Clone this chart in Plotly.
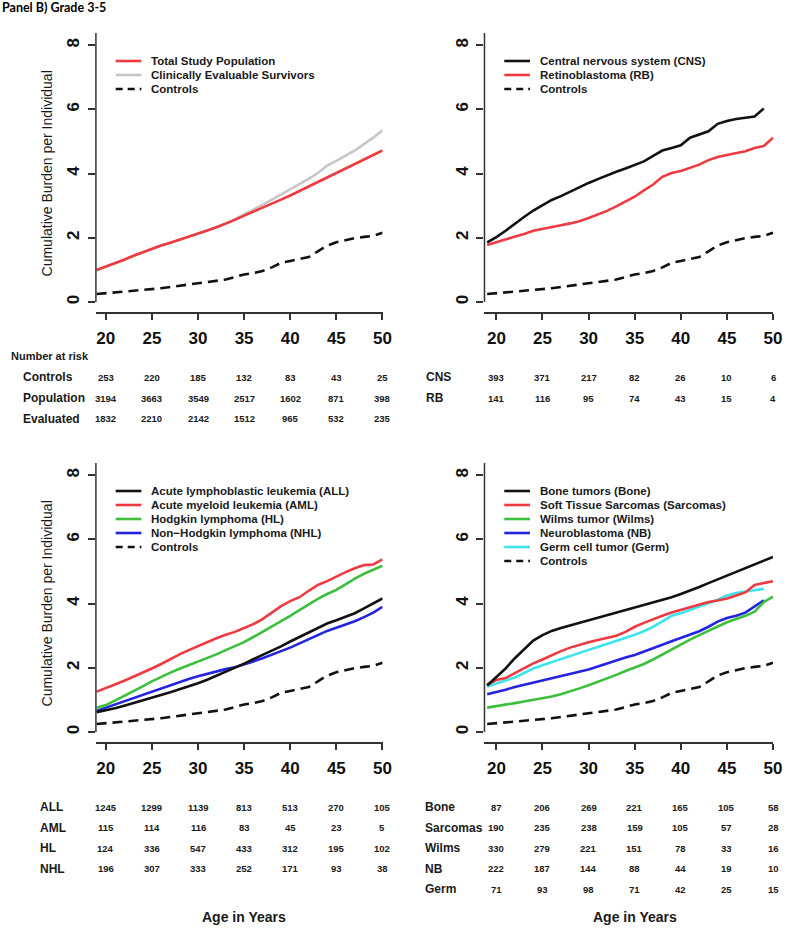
import plotly.graph_objects as go

W, H = 800, 932

# ---------------- data ----------------
ages = list(range(19, 51))
risk_ages = [20, 25, 30, 35, 40, 45, 50]

controls = [0.25, 0.27, 0.29, 0.32, 0.35, 0.38, 0.40, 0.43, 0.47, 0.51, 0.55, 0.59, 0.63, 0.67,
            0.70, 0.78, 0.86, 0.90, 0.97, 1.08, 1.22, 1.28, 1.34, 1.40, 1.58, 1.76, 1.86, 1.93,
            1.99, 2.03, 2.06, 2.16]

# Panel 1
total_pop = [1.00, 1.10, 1.21, 1.32, 1.44, 1.55, 1.66, 1.76, 1.85, 1.94, 2.03, 2.13, 2.23, 2.33,
             2.44, 2.56, 2.69, 2.81, 2.93, 3.06, 3.19, 3.32, 3.46, 3.60, 3.74, 3.90, 4.03, 4.16,
             4.30, 4.45, 4.59, 4.72]
evaluable = [1.00, 1.10, 1.21, 1.32, 1.44, 1.55, 1.66, 1.76, 1.85, 1.94, 2.03, 2.13, 2.23, 2.33,
             2.44, 2.58, 2.74, 2.88, 3.03, 3.19, 3.36, 3.52, 3.68, 3.84, 4.02, 4.25, 4.40, 4.55,
             4.72, 4.92, 5.12, 5.35]

# Panel 2
cns = [1.86, 2.02, 2.22, 2.45, 2.65, 2.85, 3.02, 3.18, 3.30, 3.44, 3.58, 3.71, 3.83, 3.95,
       4.06, 4.16, 4.26, 4.38, 4.55, 4.72, 4.80, 4.88, 5.12, 5.22, 5.32, 5.55, 5.64, 5.70,
       5.75, 5.78, 6.03, None]
rb = [1.78, 1.86, 1.95, 2.04, 2.12, 2.22, 2.27, 2.33, 2.39, 2.45, 2.52, 2.62, 2.73, 2.84,
      2.98, 3.12, 3.28, 3.48, 3.66, 3.90, 4.02, 4.08, 4.17, 4.28, 4.42, 4.52, 4.58, 4.63,
      4.70, 4.80, 4.86, 5.12]

# Panel 3
all_ = [0.62, 0.67, 0.74, 0.82, 0.90, 0.98, 1.06, 1.15, 1.24, 1.33, 1.42, 1.52, 1.63, 1.75,
        1.88, 2.00, 2.13, 2.27, 2.40, 2.53, 2.67, 2.82, 2.96, 3.10, 3.26, 3.38, 3.48, 3.58,
        3.70, 3.85, 4.00, 4.16]
aml = [1.26, 1.36, 1.48, 1.60, 1.72, 1.85, 1.98, 2.12, 2.28, 2.42, 2.55, 2.68, 2.80, 2.92,
       3.03, 3.12, 3.24, 3.36, 3.52, 3.72, 3.92, 4.08, 4.20, 4.40, 4.58, 4.70, 4.85, 4.98,
       5.10, 5.20, 5.22, 5.38]
hl = [0.76, 0.84, 0.98, 1.12, 1.27, 1.42, 1.58, 1.72, 1.85, 1.97, 2.08, 2.19, 2.30, 2.42,
      2.55, 2.67, 2.80, 2.96, 3.12, 3.28, 3.45, 3.62, 3.80, 3.98, 4.15, 4.30, 4.43, 4.60,
      4.78, 4.93, 5.06, 5.18]
nhl = [0.66, 0.76, 0.86, 0.97, 1.07, 1.17, 1.27, 1.36, 1.46, 1.56, 1.65, 1.74, 1.82, 1.89,
       1.96, 2.02, 2.10, 2.20, 2.30, 2.40, 2.52, 2.63, 2.76, 2.90, 3.03, 3.15, 3.25, 3.35,
       3.45, 3.58, 3.72, 3.90]

# Panel 4
bone = [1.45, 1.70, 1.98, 2.30, 2.58, 2.85, 3.02, 3.15, 3.24, 3.32, 3.40, 3.48, 3.56, 3.63,
        3.70, 3.78, 3.86, 3.94, 4.03, 4.12, 4.20, 4.30, 4.40, 4.52, 4.64, 4.76, 4.88, 4.98,
        5.12, 5.24, 5.34, 5.45]
sarcomas = [1.48, 1.62, 1.68, 1.84, 2.00, 2.14, 2.26, 2.40, 2.52, 2.63, 2.72, 2.80, 2.87, 2.93,
            3.00, 3.12, 3.28, 3.40, 3.52, 3.62, 3.72, 3.80, 3.90, 3.98, 4.05, 4.10, 4.16, 4.25,
            4.35, 4.58, 4.65, 4.70]
wilms = [0.76, 0.80, 0.85, 0.90, 0.95, 1.00, 1.05, 1.11, 1.18, 1.26, 1.36, 1.46, 1.56, 1.66,
         1.78, 1.90, 2.00, 2.12, 2.26, 2.42, 2.58, 2.74, 2.88, 3.02, 3.16, 3.30, 3.42, 3.52,
         3.62, 3.75, 4.05, 4.22]
nb = [1.18, 1.24, 1.32, 1.40, 1.47, 1.53, 1.59, 1.66, 1.74, 1.81, 1.88, 1.95, 2.04, 2.14,
      2.24, 2.32, 2.40, 2.50, 2.60, 2.72, 2.83, 2.93, 3.03, 3.14, 3.28, 3.44, 3.55, 3.62,
      3.72, 3.92, 4.10, None]
germ = [1.42, 1.52, 1.60, 1.70, 1.84, 1.98, 2.08, 2.18, 2.28, 2.38, 2.48, 2.56, 2.65, 2.74,
        2.83, 2.93, 3.03, 3.14, 3.28, 3.45, 3.62, 3.70, 3.80, 3.90, 4.00, 4.12, 4.25, 4.33,
        4.38, 4.43, 4.46, None]

# Numbers at risk
risk_p1_labels = ["Controls", "Population", "Evaluated"]
risk_p1 = [[253, 220, 185, 132, 83, 43, 25],
           [3194, 3663, 3549, 2517, 1602, 871, 398],
           [1832, 2210, 2142, 1512, 965, 532, 235]]
risk_p2_labels = ["CNS", "RB"]
risk_p2 = [[393, 371, 217, 82, 26, 10, 6],
           [141, 116, 95, 74, 43, 15, 4]]
risk_p3_labels = ["ALL", "AML", "HL", "NHL"]
risk_p3 = [[1245, 1299, 1139, 813, 513, 270, 105],
           [115, 114, 116, 83, 45, 23, 5],
           [124, 336, 547, 433, 312, 195, 102],
           [196, 307, 333, 252, 171, 93, 38]]
risk_p4_labels = ["Bone", "Sarcomas", "Wilms", "NB", "Germ"]
risk_p4 = [[87, 206, 269, 221, 165, 105, 58],
           [190, 235, 238, 159, 105, 57, 28],
           [330, 279, 221, 151, 78, 33, 16],
           [222, 187, 144, 88, 44, 19, 10],
           [71, 93, 98, 71, 42, 25, 15]]

# ---------------- style ----------------
RED = "#ef3a42"
GREY = "#c6c6c6"
GREEN = "#3cbf3c"
BLUE = "#2424e0"
CYAN = "#3ee4ec"
BLACK = "#111111"
AX = "#333333"
FONT = "Liberation Sans, Arial, sans-serif"


def px(x):
    return x / W


def py(y):
    return 1 - y / H


panels = [
    # (axis suffix, left px, right px, top px, bottom px, xmin)
    ("", 97, 387, 33, 312, 18.93),
    ("2", 490, 782, 33, 312, 18.71),
    ("3", 97, 387, 463, 742, 18.93),
    ("4", 490, 782, 463, 742, 18.71),
]

series = [
    [("Total Study Population", total_pop, RED, "solid"),
     ("Clinically Evaluable Survivors", evaluable, GREY, "solid"),
     ("Controls", controls, BLACK, "dash")],
    [("Central nervous system (CNS)", cns, BLACK, "solid"),
     ("Retinoblastoma (RB)", rb, RED, "solid"),
     ("Controls", controls, BLACK, "dash")],
    [("Acute lymphoblastic leukemia (ALL)", all_, BLACK, "solid"),
     ("Acute myeloid leukemia (AML)", aml, RED, "solid"),
     ("Hodgkin lymphoma (HL)", hl, GREEN, "solid"),
     ("Non\u2212Hodgkin lymphoma (NHL)", nhl, BLUE, "solid"),
     ("Controls", controls, BLACK, "dash")],
    [("Bone tumors (Bone)", bone, BLACK, "solid"),
     ("Soft Tissue Sarcomas (Sarcomas)", sarcomas, RED, "solid"),
     ("Wilms tumor (Wilms)", wilms, GREEN, "solid"),
     ("Neuroblastoma (NB)", nb, BLUE, "solid"),
     ("Germ cell tumor (Germ)", germ, CYAN, "solid"),
     ("Controls", controls, BLACK, "dash")],
]

fig = go.Figure()
shapes = []
annotations = []
layout = {}

DASH = "10px,6px"

for (suf, l, r, t, b, xmin), ser in zip(panels, series):
    xa = "x" + suf
    ya = "y" + suf
    for name, vals, col, dash in reversed(ser):
        fig.add_trace(go.Scatter(
            x=ages, y=vals, mode="lines", name=name, showlegend=False,
            xaxis=xa, yaxis=ya, connectgaps=False, hoverinfo="skip",
            line=dict(color=col, width=2.6, dash=DASH if dash == "dash" else "solid"),
        ))
    layout["xaxis" + suf] = dict(
        domain=[px(l), px(r)], range=[xmin, 50.02], anchor=ya,
        showline=True, linecolor=AX, linewidth=1.5, mirror=False,
        ticks="outside", ticklen=6, tickwidth=1.5, tickcolor=AX,
        tickvals=risk_ages, ticklabelstandoff=4,
        tickfont=dict(family=FONT, size=17, color=BLACK, weight="bold"),
        showgrid=False, zeroline=False, fixedrange=True,
    )
    layout["yaxis" + suf] = dict(
        domain=[py(b), py(t)], range=[-0.31, 8.38], anchor=xa,
        showline=False, ticks="outside", ticklen=7, tickwidth=1.5, tickcolor=AX,
        tickvals=[0, 2, 4, 6, 8], tickangle=-90, ticklabelstandoff=2,
        tickfont=dict(family=FONT, size=17, color=BLACK, weight="bold"),
        showgrid=False, zeroline=False, fixedrange=True,
    )
    shapes.append(dict(type="line", xref=xa + " domain", yref=ya, x0=0, x1=0, y0=0, y1=8.38,
                       line=dict(color=AX, width=1.5)))

    # legend (drawn manually to match R style)
    lx0 = l + 20
    ly0 = t + 28
    for i, (name, vals, col, dash) in enumerate(ser):
        yy = ly0 + i * 14
        shapes.append(dict(type="line", xref="paper", yref="paper",
                           x0=px(lx0), x1=px(lx0 + 26), y0=py(yy), y1=py(yy),
                           line=dict(color=col, width=2.6, dash="7px,5px" if dash == "dash" else "solid")))
        annotations.append(dict(x=px(lx0 + 34), y=py(yy), xref="paper", yref="paper",
                                text=name, showarrow=False, xanchor="left", yanchor="middle",
                                font=dict(family=FONT, size=11.5, color="#1a1a1a", weight="bold")))

# y-axis titles
for yc in (173, 603):
    annotations.append(dict(x=px(48), y=py(yc), xref="paper", yref="paper",
                            text="Cumulative Burden per Individual", textangle=-90,
                            showarrow=False, xanchor="center", yanchor="middle",
                            font=dict(family=FONT, size=14, color="#1a1a1a")))

# Title
annotations.append(dict(x=0, y=py(8), xref="paper", yref="paper", text="<b>Panel B) Grade 3-5</b>",
                        showarrow=False, xanchor="left", yanchor="middle",
                        font=dict(family="Lato, Open Sans, sans-serif", size=12.5, color="#000")))

# Number at risk tables
annotations.append(dict(x=px(9), y=py(356), xref="paper", yref="paper", text="Number at risk",
                        showarrow=False, xanchor="left", yanchor="middle",
                        font=dict(family=FONT, size=11, color="#1a1a1a", weight="bold")))


def risk_table(labels, rows, xa, label_x, y_start, step):
    for i, (lab, row) in enumerate(zip(labels, rows)):
        yy = y_start + i * step
        annotations.append(dict(x=px(label_x), y=py(yy), xref="paper", yref="paper", text=lab,
                                showarrow=False, xanchor="left", yanchor="middle",
                                font=dict(family=FONT, size=12, color="#1a1a1a", weight="bold")))
        for a, v in zip(risk_ages, row):
            annotations.append(dict(x=a, y=py(yy), xref=xa, yref="paper", text=str(v),
                                    showarrow=False, xanchor="center", yanchor="middle",
                                    font=dict(family=FONT, size=9.5, color="#1a1a1a", weight="bold")))


risk_table(risk_p1_labels, risk_p1, "x", 21, 377, 21)
risk_table(risk_p2_labels, risk_p2, "x2", 429, 377, 21)
risk_table(risk_p3_labels, risk_p3, "x3", 38, 807, 20.6)
risk_table(risk_p4_labels, risk_p4, "x4", 428, 807, 20.6)

for xc in (247, 642):
    annotations.append(dict(x=px(xc), y=py(917), xref="paper", yref="paper", text="Age in Years",
                            showarrow=False, xanchor="center", yanchor="middle",
                            font=dict(family=FONT, size=14, color="#1a1a1a", weight="bold")))

fig.update_layout(
    width=W, height=H, margin=dict(l=0, r=0, t=0, b=0),
    paper_bgcolor="white", plot_bgcolor="white",
    showlegend=False, shapes=shapes, annotations=annotations,
    **layout,
)

fig.write_html("out.html", config={"displayModeBar": False},
               post_script="document.body.style.margin='0';document.body.style.overflow='hidden';")
